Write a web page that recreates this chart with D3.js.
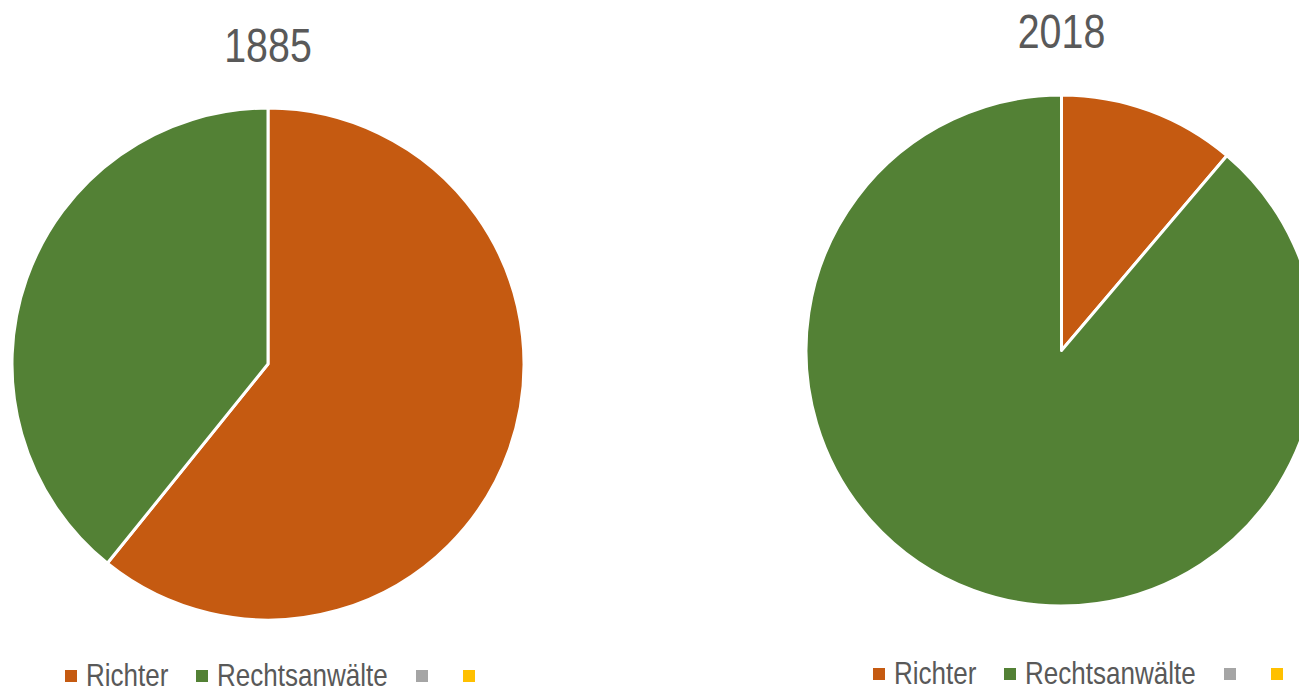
<!DOCTYPE html>
<html>
<head>
<meta charset="utf-8">
<script src="https://cdn.jsdelivr.net/npm/d3@7"></script>
<style>
  body { margin: 0; background: #fff; }
  text { font-family: "Liberation Sans", Arial, sans-serif; fill: #595959; }
</style>
</head>
<body>
<script>
// categories and values (share in %)
let years = ['1885', '2018'];
let categories = ['Richter', 'Rechtsanwälte', '', ''];
let values1885 = [60.8, 39.2, 0, 0];
let values2018 = [11.2, 88.8, 0, 0];
let colors = ['#C55A11', '#538135', '#A5A5A5', '#FFC000'];

let w = 1299, h = 691;
// no narrow font installed, so squeeze the regular one like Arial Narrow
let narrow = 0.82;
let narrowLegend = 0.84;

let svg = d3.select('body')
   .append('svg')
   .attr('width', w)
   .attr('height', h);

let color = d3.scaleOrdinal()
   .domain(d3.range(categories.length))
   .range(colors);

// one pie per year
function pie_chart(values, title, cx, cy, r, titleY, legendX, legendY) {

  let g = svg.append('g')
     .attr('transform', `translate(${cx},${cy})`);

  let pie = d3.pie()
     .sort(null)
     .value(function(d) { return d; });

  let arc = d3.arc()
     .innerRadius(0)
     .outerRadius(r);

  g.selectAll('path')
     .data(pie(values).filter(function(d) { return d.value > 0; }))
     .enter()
     .append('path')
     .attr('d', arc)
     .attr('fill', function(d) { return color(d.index); })
     .attr('stroke', '#fff')
     .attr('stroke-width', 3)
     .attr('stroke-linejoin', 'round');

  // title
  svg.append('text')
     .attr('transform', `translate(${cx},${titleY}) scale(${narrow},1)`)
     .style('text-anchor', 'middle')
     .style('font-size', '48px')
     .text(title);

  // legend
  let legend = svg.append('g')
     .attr('transform', `translate(${legendX},${legendY})`);

  let offsets = [0, 131, 351, 398];
  categories.forEach(function(c, i) {
    let item = legend.append('g')
       .attr('transform', `translate(${offsets[i]},0)`);
    item.append('rect')
       .attr('x', 0)
       .attr('y', -6)
       .attr('width', 12)
       .attr('height', 12)
       .attr('fill', colors[i]);
    item.append('text')
       .attr('transform', `translate(21,10) scale(${narrowLegend},1)`)
       .style('font-size', '31px')
       .text(c);
  });
}

pie_chart(values1885, years[0], 268, 364, 256, 62, 65, 676);
pie_chart(values2018, years[1], 1061.5, 350.5, 255.5, 48, 873, 674);
</script>
</body>
</html>
